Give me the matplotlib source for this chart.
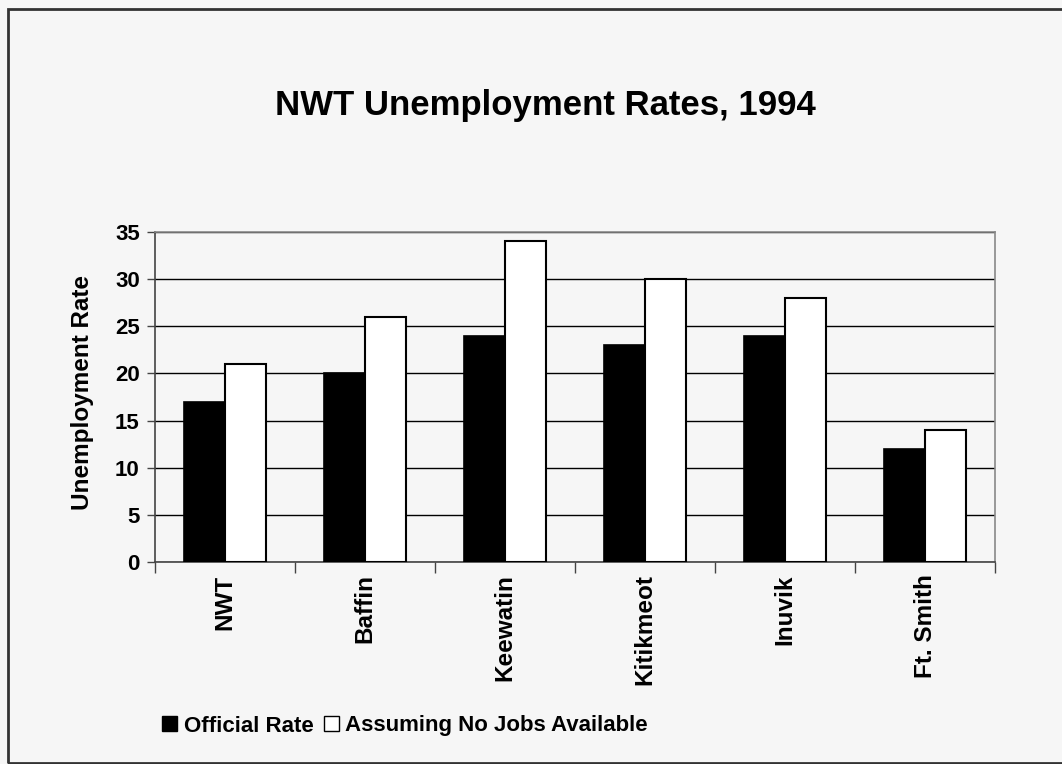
import numpy as np
import matplotlib.pyplot as plt
from matplotlib.patches import Rectangle, Patch

# unemployment rates by region, 1994
regions = ['NWT', 'Baffin', 'Keewatin', 'Kitikmeot', 'Inuvik', 'Ft. Smith']
official_rate = [17, 20, 24, 23, 24, 12]
no_jobs_rate = [21, 26, 34, 30, 28, 14]
y_ticks = [0, 5, 10, 15, 20, 25, 30, 35]

plt.rcParams['font.family'] = ['Liberation Sans', 'DejaVu Sans']
plt.rcParams['font.weight'] = 'bold'

bg = '#f6f6f6'
fig = plt.figure(figsize=(10.62, 7.64), dpi=100, facecolor=bg)
ax = fig.add_axes([0.146, 0.2644, 0.791, 0.4319])
ax.set_facecolor(bg)

# outer frame around the chart
fig.patches.append(Rectangle((8 / 1062, 0.0015), 1.1, 1 - 9 / 764 - 0.0015,
                             transform=fig.transFigure, fill=False,
                             edgecolor='#333333', linewidth=2, zorder=0))

x = np.arange(len(regions))
w = 0.295
ax.bar(x - w / 2, official_rate, w, color='black', edgecolor='black',
       linewidth=1.2, zorder=3)
ax.bar(x + w / 2, no_jobs_rate, w, color='white', edgecolor='black',
       linewidth=1.5, zorder=3)

ax.set_xlim(-0.5, len(regions) - 0.5)
ax.set_ylim(0, 35)
ax.set_yticks(y_ticks)
ax.yaxis.grid(True, color='black', linewidth=1)
ax.set_axisbelow(True)

ax.set_xticks(x)
ax.set_xticklabels(regions, rotation=90, fontsize=17.5, fontweight='bold')
ax.set_xticks(np.arange(-0.5, len(regions)), minor=True)
ax.tick_params(axis='x', which='major', length=0, pad=9)
ax.tick_params(axis='x', which='minor', length=8, width=1, color='#444444',
               direction='out')
ax.tick_params(axis='y', length=6, width=1, color='#444444', labelsize=16,
               pad=5)
for lbl in ax.get_yticklabels():
    lbl.set_fontweight('bold')

ax.spines['left'].set_color('#444444')
ax.spines['bottom'].set_color('#444444')
ax.spines['top'].set_color('#888888')
ax.spines['right'].set_color('#888888')
for s in ax.spines.values():
    s.set_linewidth(1.2)

fig.text(82 / 1062, 1 - 392 / 764, 'Unemployment Rate', rotation=90,
         ha='center', va='center', fontsize=17.5, fontweight='bold')

fig.text(0.514, 1 - 105 / 764, 'NWT Unemployment Rates, 1994', ha='center',
         va='center', fontsize=25, fontweight='bold')

handles = [Patch(facecolor='black', edgecolor='black', label='Official Rate'),
           Patch(facecolor='white', edgecolor='black',
                 label='Assuming No Jobs Available')]
fig.legend(handles=handles, loc='center left',
           bbox_to_anchor=(162 / 1062, 1 - 726 / 764), ncol=2, frameon=False,
           handlelength=0.68, handleheight=0.68, handletextpad=0.3,
           columnspacing=0.45, borderaxespad=0, borderpad=0,
           prop={'weight': 'bold', 'size': 16})

fig.savefig('out.png', dpi=100, facecolor=bg)
